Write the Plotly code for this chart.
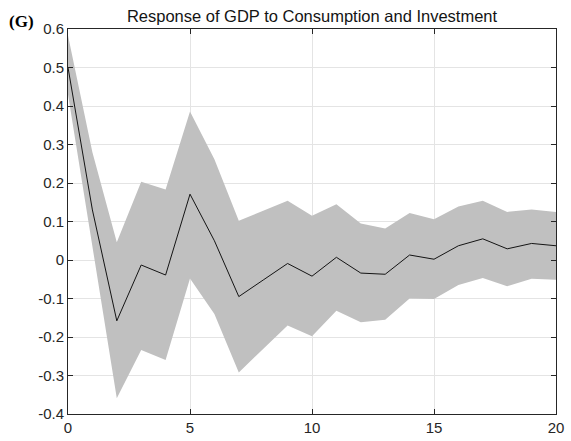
import plotly.graph_objects as go

horizon = list(range(21))
response = [0.50, 0.13, -0.158, -0.013, -0.039, 0.171, 0.05, -0.095, -0.052, -0.009,
            -0.042, 0.007, -0.034, -0.037, 0.013, 0.002, 0.037, 0.055, 0.029, 0.043, 0.037]
upper = [0.583, 0.28, 0.046, 0.203, 0.183, 0.386, 0.262, 0.102, 0.128, 0.154,
         0.115, 0.145, 0.095, 0.082, 0.122, 0.106, 0.139, 0.154, 0.125, 0.131, 0.125]
lower = [0.43, 0.04, -0.359, -0.234, -0.26, -0.048, -0.14, -0.292, -0.23, -0.17,
         -0.198, -0.132, -0.162, -0.155, -0.10, -0.101, -0.065, -0.047, -0.068, -0.049, -0.051]
x_ticks = [0, 5, 10, 15, 20]
y_ticks = [-0.4, -0.3, -0.2, -0.1, 0, 0.1, 0.2, 0.3, 0.4, 0.5, 0.6]
y_tick_labels = ["-0.4", "-0.3", "-0.2", "-0.1", "0", "0.1", "0.2", "0.3", "0.4", "0.5", "0.6"]

band = "rgb(192,192,192)"
axis_col = "rgb(38,38,38)"

L, R, T, B = 68, 15, 29, 27
W, H = 571, 441
pw, ph = W - L - R, H - T - B

fig = go.Figure()
fig.add_trace(go.Scatter(x=horizon, y=upper, mode="lines", line=dict(width=0, color=band),
                         showlegend=False, hoverinfo="skip"))
fig.add_trace(go.Scatter(x=horizon, y=lower, mode="lines", line=dict(width=0, color=band),
                         fill="tonexty", fillcolor=band, showlegend=False, hoverinfo="skip"))
fig.add_trace(go.Scatter(x=horizon, y=response, mode="lines",
                         line=dict(color="rgb(20,20,20)", width=1), showlegend=False))

fig.update_layout(
    width=W, height=H,
    margin=dict(l=L, r=R, t=T, b=B, autoexpand=False),
    paper_bgcolor="white", plot_bgcolor="white",
    font=dict(family="Liberation Sans, Arial, sans-serif", size=15, color=axis_col),
    title=dict(text="Response of GDP to Consumption and Investment",
               x=(L + L + pw) / 2 / W, xanchor="center", y=1 - 16 / H, yanchor="middle",
               font=dict(size=16.5, color="rgb(20,20,20)")),
    annotations=[dict(text="<b>(G)</b>", xref="paper", yref="paper",
                      x=(7 - L) / pw, y=1 + (T - 21.5) / ph, xanchor="left", yanchor="middle",
                      showarrow=False,
                      font=dict(family="Liberation Serif, Times New Roman, serif", size=17,
                                color="black"))],
)
fig.update_xaxes(range=[0, 20], tickvals=x_ticks, ticks="inside", ticklen=5,
                 tickcolor=axis_col, showline=True, linecolor=axis_col, linewidth=1,
                 mirror="ticks", showgrid=True, gridcolor="rgb(228,228,228)", gridwidth=1,
                 zeroline=False, tickfont=dict(size=15), automargin=False)
fig.update_yaxes(range=[-0.4, 0.6], tickvals=y_ticks, ticktext=y_tick_labels,
                 ticks="inside", ticklen=5, tickcolor=axis_col, showline=True,
                 linecolor=axis_col, linewidth=1, mirror="ticks", showgrid=True,
                 gridcolor="rgb(228,228,228)", gridwidth=1, zeroline=False,
                 tickfont=dict(size=15), automargin=False)

fig.write_html("out.html", config={"displayModeBar": False},
               post_script="document.body.style.margin='0';document.body.style.overflow='hidden';")
